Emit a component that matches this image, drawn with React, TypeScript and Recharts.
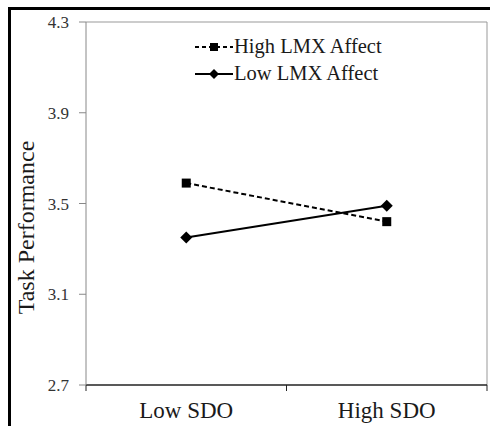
import React from "react";
import { LineChart, Line, XAxis, YAxis, ReferenceLine } from "recharts";

const categories = ["Low SDO", "High SDO"];
const highLmxAffect = [3.59, 3.42];
const lowLmxAffect = [3.35, 3.49];
const yTicks = [2.7, 3.1, 3.5, 3.9, 4.3];
const frameTicks = [0, 1, 2];

const data = categories.map((sdo, i) => ({
  sdo,
  pos: i + 0.5,
  high: highLmxAffect[i],
  low: lowLmxAffect[i],
}));

const FONT = "'Times New Roman', Times, 'Liberation Serif', serif";
const INK = "#1a1a1a";

const SquareDot = (props: any) => {
  const { cx, cy } = props;
  if (cx == null || cy == null) return <g />;
  return <rect x={cx - 4.5} y={cy - 4.5} width={9} height={9} fill="#000" />;
};

const DiamondDot = (props: any) => {
  const { cx, cy } = props;
  if (cx == null || cy == null) return <g />;
  return (
    <polygon
      points={`${cx},${cy - 6} ${cx + 6},${cy} ${cx},${cy + 6} ${cx - 6},${cy}`}
      fill="#000"
    />
  );
};

const legendItems = [
  { name: "High LMX Affect", dash: "4 3", marker: "square" },
  { name: "Low LMX Affect", dash: undefined, marker: "diamond" },
];

function LegendBox() {
  return (
    <div style={{ fontFamily: FONT, fontSize: 20.5, color: INK }}>
      {legendItems.map((it) => (
        <div key={it.name} style={{ display: "flex", alignItems: "center", height: 27 }}>
          <svg width={38} height={14} style={{ marginRight: 1 }}>
            <line x1={0} x2={38} y1={7} y2={7} stroke="#000" strokeWidth={2} strokeDasharray={it.dash} />
            {it.marker === "square" ? (
              <rect x={15} y={3} width={8} height={8} fill="#000" />
            ) : (
              <polygon points="19,2 24,7 19,12 14,7" fill="#000" />
            )}
          </svg>
          <span>{it.name}</span>
        </div>
      ))}
    </div>
  );
}

export default function App() {
  return (
    <div style={{ position: "absolute", left: 0, top: 0, width: 490, height: 426, background: "#fff", fontFamily: FONT }}>
      <div
        style={{
          position: "absolute",
          left: 8,
          top: 7,
          right: 0,
          bottom: 0,
          borderTop: "3px solid #000",
          borderLeft: "3px solid #000",
        }}
      />
      <div style={{ position: "absolute", left: 0, top: 0 }}>
        <LineChart
          width={490}
          height={426}
          data={data}
          margin={{ top: 22, right: 3, bottom: 0, left: 0 }}
          style={{ fontFamily: FONT }}
        >
          <XAxis
            xAxisId="a"
            type="number"
            dataKey="pos"
            domain={[0, categories.length]}
            ticks={frameTicks}
            tickFormatter={() => ""}
            height={8}
            tickSize={6}
            axisLine={{ stroke: "#222", strokeWidth: 1.5 }}
            tickLine={{ stroke: "#222" }}
          />
          <XAxis
            xAxisId="b"
            dataKey="sdo"
            scale="band"
            height={33}
            axisLine={false}
            tickLine={false}
            tickMargin={3}
            tick={{ fontFamily: FONT, fontSize: 23, fill: INK }}
          />
          <YAxis
            domain={[2.7, 4.3]}
            ticks={yTicks}
            width={86}
            tickSize={7}
            tickMargin={10}
            axisLine={{ stroke: "#888" }}
            tickLine={{ stroke: "#888" }}
            tick={{ fontFamily: FONT, fontSize: 17, fill: "#333" }}
            tickFormatter={(v: number) => v.toFixed(1)}
            label={{
              content: (p: any) => {
                const vb = p.viewBox || { x: 0, y: 0, height: 0 };
                const cx = vb.x + 26;
                const cy = vb.y + vb.height / 2 + 24;
                return (
                  <text
                    x={cx}
                    y={cy}
                    transform={`rotate(-90, ${cx}, ${cy})`}
                    textAnchor="middle"
                    dominantBaseline="central"
                    fontFamily={FONT}
                    fontSize={24}
                    fill={INK}
                  >
                    Task Performance
                  </text>
                );
              },
            }}
          />
          <ReferenceLine xAxisId="a" y={4.3} stroke="#999" />
          <ReferenceLine xAxisId="a" x={categories.length} stroke="#999" />
          <Line
            xAxisId="b"
            dataKey="high"
            name="High LMX Affect"
            stroke="#000"
            strokeWidth={2}
            strokeDasharray="5 3"
            dot={<SquareDot />}
            activeDot={false}
            isAnimationActive={false}
          />
          <Line
            xAxisId="b"
            dataKey="low"
            name="Low LMX Affect"
            stroke="#000"
            strokeWidth={2}
            dot={<DiamondDot />}
            activeDot={false}
            isAnimationActive={false}
          />
        </LineChart>
      </div>
      <div style={{ position: "absolute", left: 195, top: 33 }}>
        <LegendBox />
      </div>
    </div>
  );
}
